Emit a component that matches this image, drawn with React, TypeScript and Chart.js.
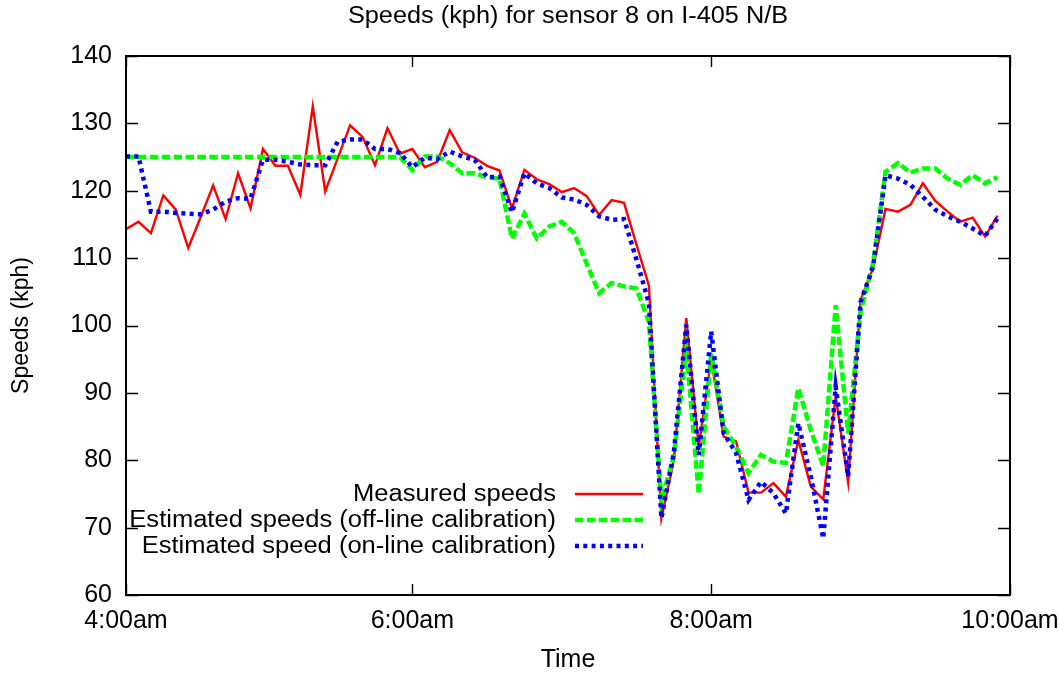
import React, { useEffect, useRef } from "react";
import { Chart, registerables } from "chart.js";

Chart.register(...registerables);

// 5-minute samples, index 0 = 4:00am slot
const measured = [
  114.3, 115.4, 113.7, 119.3, 117.2, 111.5, 116.1, 120.8, 115.8, 122.6,
  117.4, 126.2, 123.7, 123.7, 119.4, 132.5, 119.9, 124.8, 129.7, 128.0,
  123.8, 129.3, 125.5, 126.2, 123.5, 124.3, 129.0, 125.7, 124.9, 123.7,
  123.0, 117.4, 123.1, 121.7, 121.0, 119.8, 120.4, 119.2, 116.4, 118.6,
  118.2, 112.0, 105.9, 71.4, 80.0, 101.1, 82.0, 95.0, 83.5, 82.8,
  75.2, 75.2, 76.6, 74.6, 83.0, 76.1, 74.2, 89.5, 76.7, 103.8,
  108.5, 117.3, 116.9, 117.9, 121.1, 118.5, 116.9, 115.4, 116.0, 113.2,
  116.3,
];

const offline = [
  125.0, 125.0, 125.0, 125.0, 125.0, 125.0, 125.0, 125.0, 125.0, 125.0,
  125.0, 125.0, 125.0, 125.0, 125.0, 125.0, 125.0, 125.0, 125.0, 125.0,
  125.0, 125.0, 125.0, 123.1, 125.1, 125.1, 124.1, 122.6, 122.6, 122.0,
  121.8, 112.9, 116.6, 112.9, 114.7, 115.4, 113.7, 109.2, 104.8, 106.3,
  105.8, 105.5, 100.5, 74.0, 80.6, 96.5, 75.0, 95.9, 85.0, 82.0,
  78.1, 80.8, 79.8, 79.6, 90.7, 84.5, 79.1, 103.0, 84.0, 102.0,
  109.2, 122.8, 124.1, 122.7, 123.3, 123.3, 121.8, 120.9, 122.3, 121.1,
  122.0,
];

const online = [
  125.1, 125.1, 116.9, 116.9, 116.7, 116.6, 116.5, 117.2, 118.4, 118.9,
  118.8, 124.6, 124.6, 124.3, 123.9, 123.8, 123.8, 127.3, 127.6, 127.6,
  126.2, 126.2, 125.6, 123.5, 124.9, 124.7, 125.8, 125.1, 124.6, 122.0,
  122.1, 116.8, 122.6, 121.1, 120.4, 119.0, 118.7, 117.9, 116.2, 115.7,
  115.8, 109.8, 103.3, 71.4, 81.1, 100.1, 80.8, 99.1, 84.0, 81.1,
  74.1, 76.8, 75.1, 72.1, 85.5, 77.6, 68.4, 90.9, 77.6, 103.5,
  108.7, 122.3, 121.8, 120.9, 119.1, 117.2, 116.2, 115.4, 114.4, 113.3,
  115.9,
];

const xTickPositions = [0, 23, 47, 71];
const xTickLabels = ["4:00am", "6:00am", "8:00am", "10:00am"];
const seriesNames = [
  "Measured speeds",
  "Estimated speeds (off-line calibration)",
  "Estimated speed (on-line calibration)",
];
const chartTitle = "Speeds (kph) for sensor 8 on I-405 N/B";
const yTitle = "Speeds (kph)";
const xTitle = "Time";

const FONT = "'Liberation Sans', Arial, Helvetica, sans-serif";

const toPoints = (vals: number[]) => vals.map((v, i) => ({ x: i, y: v }));

const framePlugin = {
  id: "gnuframe",
  afterDatasetsDraw(chart: any) {
    const { ctx, chartArea: a, scales } = chart;
    ctx.save();
    ctx.strokeStyle = "#000";
    ctx.lineWidth = 1.4;
    ctx.beginPath();
    for (const t of scales.y.ticks) {
      const py = Math.round(scales.y.getPixelForValue(t.value)) + 0.5;
      ctx.moveTo(a.left, py);
      ctx.lineTo(a.left + 12, py);
      ctx.moveTo(a.right, py);
      ctx.lineTo(a.right - 12, py);
    }
    for (const v of xTickPositions) {
      const px = Math.round(scales.x.getPixelForValue(v)) + 0.5;
      ctx.moveTo(px, a.bottom);
      ctx.lineTo(px, a.bottom - 11);
      ctx.moveTo(px, a.top);
      ctx.lineTo(px, a.top + 11);
    }
    ctx.stroke();
    ctx.lineWidth = 2;
    ctx.strokeRect(a.left, a.top, a.right - a.left, a.bottom - a.top);

    // title
    ctx.fillStyle = "#000";
    ctx.font = `23px ${FONT}`;
    ctx.textBaseline = "middle";
    ctx.textAlign = "center";
    ctx.save();
    ctx.translate((a.left + a.right) / 2, 17);
    ctx.scale(1.1, 1);
    ctx.fillText(chartTitle, 0, 0);
    ctx.restore();

    // legend
    const rows = [494, 520, 546];
    chart.data.datasets.forEach((ds: any, i: number) => {
      const y = rows[i];
      ctx.save();
      ctx.translate(556, y);
      ctx.scale(1.11, 1);
      ctx.textAlign = "right";
      ctx.fillText(seriesNames[i], 0, 1);
      ctx.restore();
      ctx.save();
      ctx.strokeStyle = ds.borderColor;
      ctx.lineWidth = ds.borderWidth;
      ctx.setLineDash(ds.borderDash || []);
      ctx.beginPath();
      ctx.moveTo(575, y);
      ctx.lineTo(643, y);
      ctx.stroke();
      ctx.restore();
    });
    ctx.restore();
  },
};

export default function App() {
  const ref = useRef<HTMLCanvasElement | null>(null);
  useEffect(() => {
    if (!ref.current) return;
    const chart = new Chart(ref.current, {
      type: "line",
      data: {
        datasets: [
          {
            label: seriesNames[0],
            data: toPoints(measured),
            borderColor: "#ff0000",
            borderWidth: 2.4,
            pointRadius: 0,
            tension: 0,
            order: 3,
          },
          {
            label: seriesNames[1],
            data: toPoints(offline),
            borderColor: "#00ff00",
            borderWidth: 4.5,
            borderDash: [8.5, 3.4],
            pointRadius: 0,
            tension: 0,
            order: 2,
          },
          {
            label: seriesNames[2],
            data: toPoints(online),
            borderColor: "#0000ff",
            borderWidth: 4.5,
            borderDash: [4, 4.3],
            pointRadius: 0,
            tension: 0,
            order: 1,
          },
        ],
      },
      options: {
        animation: false,
        responsive: false,
        devicePixelRatio: 1,
        layout: { padding: { top: 56, right: 49, left: 0, bottom: 0 } },
        plugins: {
          legend: { display: false },
          title: { display: false },
          tooltip: { enabled: false },
        },
        scales: {
          x: {
            type: "linear",
            min: 0,
            max: 71,
            grid: { display: false, drawTicks: false },
            border: { display: false },
            afterBuildTicks: (s: any) => {
              s.ticks = xTickPositions.map((v) => ({ value: v }));
            },
            afterFit: (s: any) => {
              s.height = 80;
              s.paddingLeft = 0;
              s.paddingRight = 0;
            },
            ticks: {
              autoSkip: false,
              maxRotation: 0,
              minRotation: 0,
              padding: 11,
              color: "#000",
              font: { family: FONT, size: 25 },
              callback: (v: any) => {
                const idx = xTickPositions.indexOf(Number(v));
                return idx >= 0 ? xTickLabels[idx] : "";
              },
            },
            title: {
              display: true,
              text: xTitle,
              color: "#000",
              font: { family: FONT, size: 25 },
              padding: { top: 0, bottom: 0 },
            },
          },
          y: {
            type: "linear",
            min: 60,
            max: 140,
            grid: { display: false, drawTicks: false },
            border: { display: false },
            afterFit: (s: any) => {
              s.width = 126;
              s.paddingTop = 0;
              s.paddingBottom = 0;
            },
            ticks: {
              stepSize: 10,
              padding: 14,
              color: "#000",
              font: { family: FONT, size: 25 },
            },
            title: {
              display: true,
              text: yTitle,
              color: "#000",
              font: { family: FONT, size: 23 },
              padding: { top: 8, bottom: 0 },
            },
          },
        },
      },
      plugins: [framePlugin],
    });
    return () => chart.destroy();
  }, []);
  return (
    <div style={{ position: "fixed", left: 0, top: 0, width: 1059, height: 675, background: "#fff" }}>
      <canvas ref={ref} width={1059} height={675} style={{ width: 1059, height: 675, display: "block" }} />
    </div>
  );
}
